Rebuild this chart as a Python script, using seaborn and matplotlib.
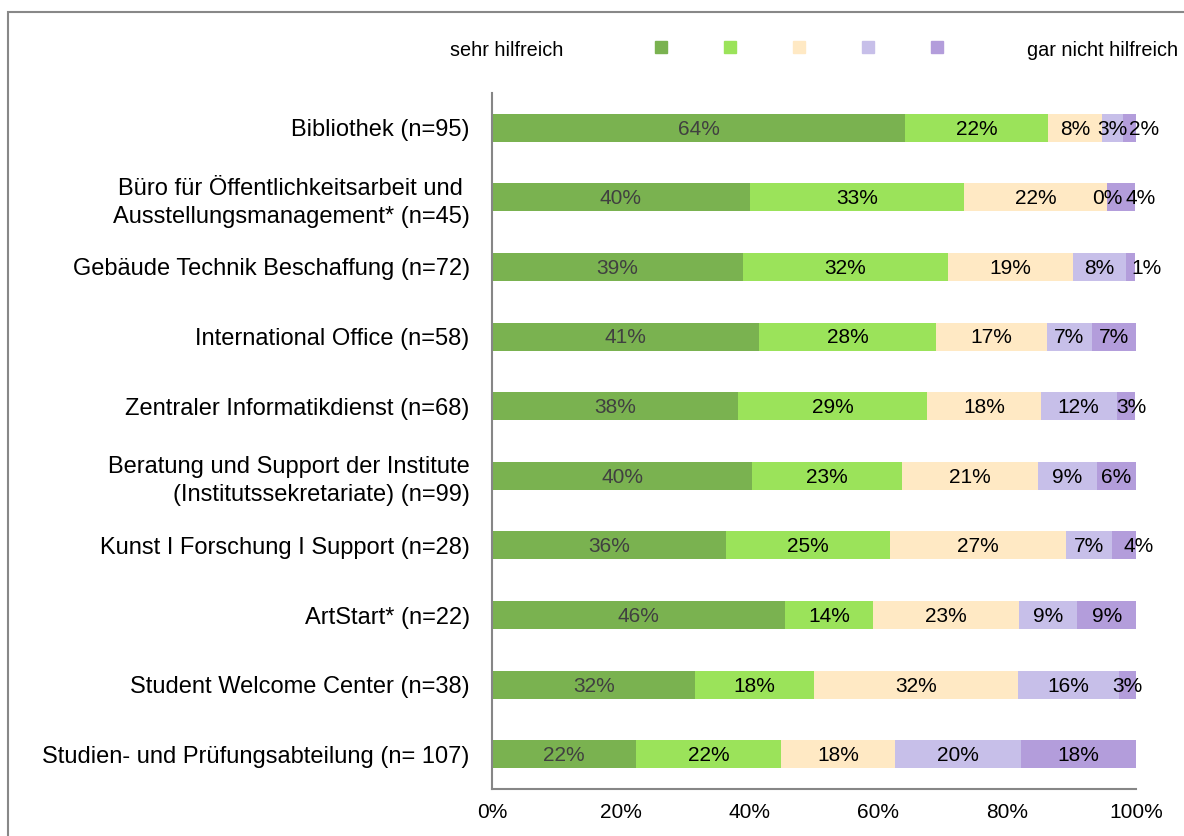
import matplotlib
matplotlib.use("Agg")
import matplotlib.pyplot as plt
from matplotlib.lines import Line2D
from matplotlib.patches import Rectangle
import pandas as pd
import seaborn as sns

# Data (share of answers in %, per service)
categories = [
    "Bibliothek (n=95)",
    "Büro für Öffentlichkeitsarbeit und \nAusstellungsmanagement* (n=45)",
    "Gebäude Technik Beschaffung (n=72)",
    "International Office (n=58)",
    "Zentraler Informatikdienst (n=68)",
    "Beratung und Support der Institute\n(Institutssekretariate) (n=99)",
    "Kunst I Forschung I Support (n=28)",
    "ArtStart* (n=22)",
    "Student Welcome Center (n=38)",
    "Studien- und Prüfungsabteilung (n= 107)",
]
sehr_hilfreich = [64.2, 40.0, 38.9, 41.4, 38.2, 40.4, 36.4, 45.5, 31.6, 22.4]
stufe_2 = [22.1, 33.3, 31.9, 27.6, 29.4, 23.2, 25.4, 13.6, 18.4, 22.4]
stufe_3 = [8.4, 22.2, 19.4, 17.2, 17.6, 21.2, 27.3, 22.7, 31.6, 17.8]
stufe_4 = [3.2, 0.0, 8.3, 6.9, 11.8, 9.1, 7.1, 9.1, 15.8, 19.6]
gar_nicht_hilfreich = [2.1, 4.4, 1.4, 6.9, 2.9, 6.1, 3.8, 9.1, 2.6, 17.8]

levels = [sehr_hilfreich, stufe_2, stufe_3, stufe_4, gar_nicht_hilfreich]
colors = ["#7AB250", "#9BE35A", "#FFE9C4", "#C7BFE9", "#B39DDB"]

# manual nudge of a few end labels (percent units), like in the original
end_label_shift = {0: 2.3, 1: 3.0, 2: 2.4, 4: 0.85, 6: 2.3}

df = pd.DataFrame({f"l{i}": v for i, v in enumerate(levels)})
df["category"] = categories
cum = df[[f"l{i}" for i in range(5)]].cumsum(axis=1)

sns.set_style("white")
plt.rcParams["font.family"] = ["Liberation Sans", "DejaVu Sans"]
plt.rcParams["text.color"] = "black"
plt.rcParams["xtick.labelcolor"] = "black"
plt.rcParams["ytick.labelcolor"] = "black"

fig = plt.figure(figsize=(11.84, 8.36), dpi=100)
ax = fig.add_axes([0.4155, 0.0562, 0.544, 0.8326])

# stacked bars: draw cumulative totals from the right end backwards
for i in range(4, -1, -1):
    sns.barplot(x=cum[f"l{i}"], y=df["category"], orient="h", color=colors[i],
                width=0.4, linewidth=0, saturation=1, ax=ax)

# labels in the segments
for row in range(len(categories)):
    left = 0
    for i, vals in enumerate(levels):
        v = vals[row]
        xc = left + v / 2
        if i == 4 and row in end_label_shift:
            xc += end_label_shift[row]
        ax.text(xc, row + 0.02, f"{v:.0f}%", ha="center", va="center", fontsize=15,
                color="#404040" if i == 0 else "black")
        left += v

ax.set_xlim(0, 100)
ax.set_ylim(9.5, -0.5)
ax.set_xticks(range(0, 101, 20))
ax.set_xticklabels([f"{t}%" for t in range(0, 101, 20)], fontsize=15)
ax.set_xlabel("")
ax.set_ylabel("")
ax.tick_params(axis="y", length=0, pad=16, labelsize=17)
ax.tick_params(axis="x", length=4, width=1.2, color="#868686", direction="out", pad=6)
for lab in ax.get_yticklabels():
    lab.set_multialignment("right")
    lab.set_linespacing(1.35)
for s in ["top", "right"]:
    ax.spines[s].set_visible(False)
for s in ["left", "bottom"]:
    ax.spines[s].set_color("#868686")
    ax.spines[s].set_linewidth(1.5)

# legend
handles = [Line2D([], [], linestyle="none", marker="s", markersize=9,
                  markerfacecolor=c, markeredgecolor=c) for c in colors]
fig.legend(handles, [""] * 5, ncol=5, frameon=False, loc="center",
           bbox_to_anchor=(799 / 1184, 1 - 48 / 836), handlelength=1.0,
           handletextpad=0, columnspacing=3.15, fontsize=12, borderpad=0)
fig.text(450 / 1184, 1 - 50 / 836, "sehr hilfreich", ha="left", va="center", fontsize=14.3)
fig.text(1178 / 1184, 1 - 50 / 836, "gar nicht hilfreich", ha="right", va="center", fontsize=14.3)

# outer frame (left and top edges visible)
fig.add_artist(Rectangle((8 / 1184, -0.1), 1.2, 1.1 - 12 / 836, transform=fig.transFigure,
                         fill=False, edgecolor="#888888", linewidth=1.5))

fig.savefig("out.png", dpi=100)
